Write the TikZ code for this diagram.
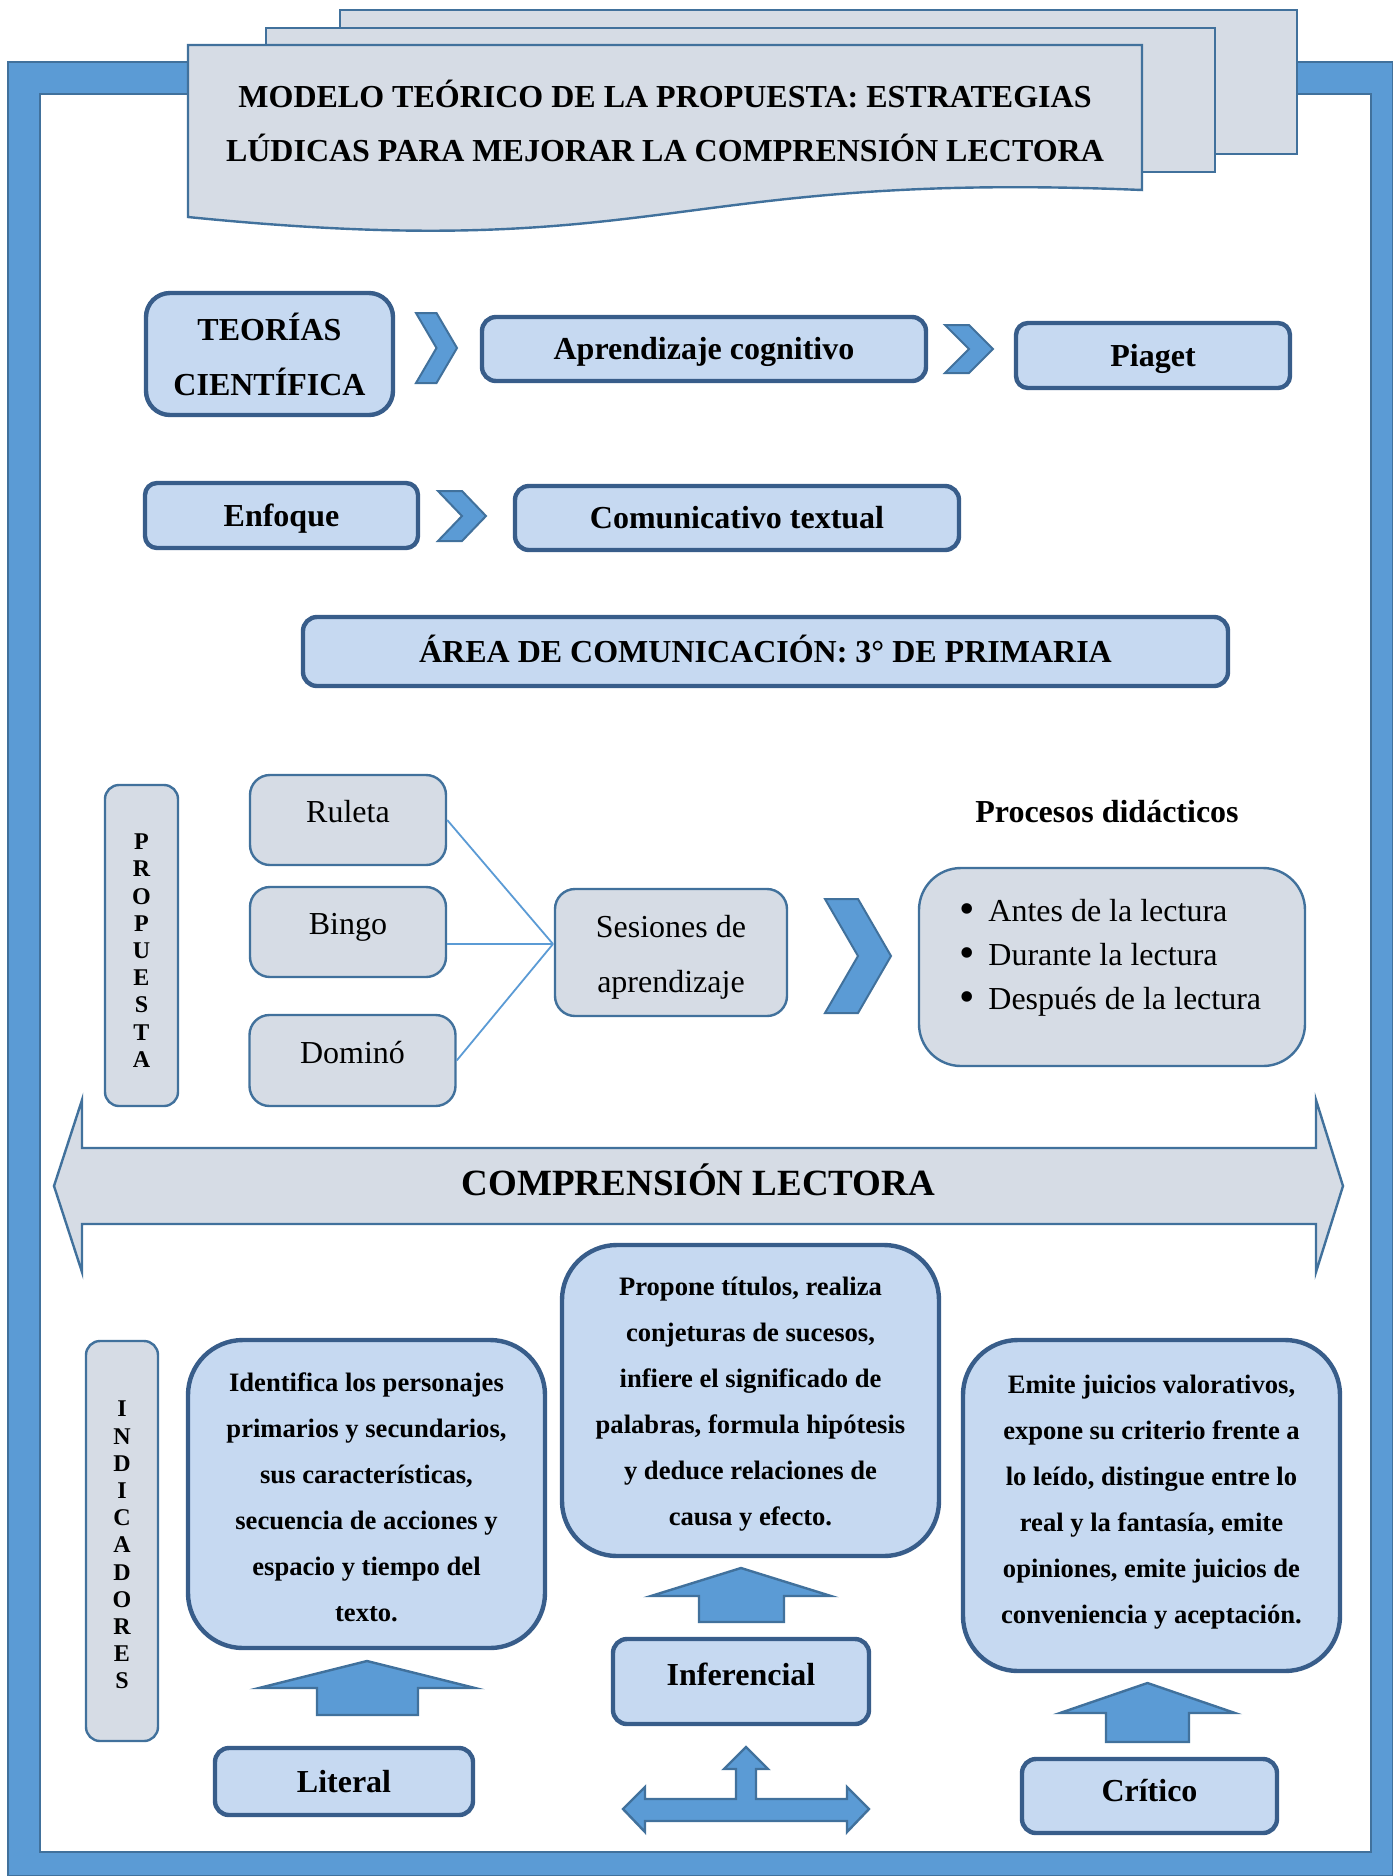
\documentclass[tikz,border=0pt]{standalone}
\usepackage{fontspec}
\setmainfont{Liberation Serif}
\definecolor{frameblue}{HTML}{5B9BD5}
\definecolor{edgeblue}{HTML}{41719C}
\definecolor{darkedge}{HTML}{385D8A}
\definecolor{lightfill}{HTML}{C6D9F1}
\definecolor{grayfill}{HTML}{D6DCE5}
\newcommand{\bigdot}{\raisebox{-1.3pt}{\fontsize{22}{22}\selectfont\textbullet}}
\tikzset{
  pagestyle/.style={fill=grayfill, draw=edgeblue, line width=1.2pt},
  bluebox/.style={fill=lightfill, draw=darkedge, line width=2.2pt, inner sep=0pt, font=\fontsize{16}{27.5}\selectfont\bfseries},
  oneline/.style={text height=10.9pt, text depth=0pt},
  graybox/.style={fill=grayfill, draw=edgeblue, line width=1.2pt, inner sep=0pt, font=\fontsize{16}{27.5}\selectfont},
  chev/.style={fill=frameblue, draw=edgeblue, line width=1pt},
  fatarrow/.style={fill=frameblue, draw=edgeblue, line width=1.2pt},
  link/.style={draw=frameblue, line width=0.9pt},
  txtbox/.style={bluebox, rounded corners=27.5pt, align=center, font=\fontsize{13.3}{23}\selectfont\bfseries},
  letters/.style={graybox, rounded corners=7pt, align=center, font=\fontsize{12}{13.6}\selectfont\bfseries},
}
\begin{document}
\begin{tikzpicture}[x=0.5pt,y=-0.5pt]
\useasboundingbox (0,0) rectangle (1393,1876);
% frame
\path[fill=frameblue, draw=edgeblue, line width=0.8pt] (8,62) rectangle (1393,1876);
\path[fill=white, draw=edgeblue, line width=0.8pt] (40,94) rectangle (1371,1852);
% stacked pages
\path[pagestyle] (340,10) rectangle (1297,154);
\path[pagestyle] (266,28) rectangle (1215,172);
\path[pagestyle] (188,45) -- (1142,45) -- (1142,190) .. controls (665,170) and (665,265) .. (188,217) -- cycle;
\node[font=\fontsize{16}{27}\selectfont\bfseries, align=center] (title) at (665,121)
  {MODELO TEÓRICO DE LA PROPUESTA: ESTRATEGIAS\\LÚDICAS PARA MEJORAR LA COMPRENSIÓN LECTORA};
% row 1
\node[bluebox, align=center, rounded corners=12pt, minimum width=123.5pt, minimum height=61pt] (teorias) at (269.5,354) {TEORÍAS\\CIENTÍFICA};
\node[bluebox, oneline, rounded corners=7pt, minimum width=222pt, minimum height=32pt] (aprend) at (704,349) {Aprendizaje cognitivo};
\node[bluebox, oneline, rounded corners=6pt, minimum width=137pt, minimum height=32.5pt] (piaget) at (1153,355.5) {Piaget};
\path[chev] (416,313) -- (436.5,313) -- (457,348) -- (436.5,383) -- (416,383) -- (436.5,348) -- cycle;
\path[chev] (945,325) -- (969,325) -- (993,349) -- (969,373) -- (945,373) -- (969,349) -- cycle;
% row 2
\node[bluebox, oneline, rounded corners=6pt, minimum width=136.5pt, minimum height=32.5pt] (enfoque) at (281.5,515.5) {Enfoque};
\node[bluebox, oneline, rounded corners=7pt, minimum width=222pt, minimum height=32pt] (comunic) at (737,518) {Comunicativo textual};
\path[chev] (438,491) -- (462,491) -- (486,516) -- (462,541) -- (438,541) -- (462,516) -- cycle;
% area
\node[bluebox, oneline, rounded corners=7pt, minimum width=462.5pt, minimum height=34.5pt] (area) at (765.5,651.5) {ÁREA DE COMUNICACIÓN: 3° DE PRIMARIA};
% propuesta
\node[letters, minimum width=36.5pt, minimum height=160.5pt] (prop) at (141.5,945.5) {\rule{0pt}{12.9pt}P\\R\\O\\P\\U\\E\\S\\T\\A};
\node[graybox, rounded corners=10pt, minimum width=98pt, minimum height=45pt, text height=5pt, text depth=2.4pt] (ruleta) at (348,820) {Ruleta};
\node[graybox, rounded corners=10pt, minimum width=98pt, minimum height=45pt, text height=5pt, text depth=2.4pt] (bingo) at (348,932) {Bingo};
\node[graybox, rounded corners=10pt, minimum width=103pt, minimum height=45.5pt, text height=5pt, text depth=2.4pt] (domino) at (352.5,1060.5) {Dominó};
\node[graybox, align=center, rounded corners=10pt, minimum width=116pt, minimum height=63.5pt] (ses) at (671,952.5) {\rule{0pt}{15.7pt}Sesiones de\\aprendizaje};
\coordinate (meet) at (553,944);
\draw[link] (ruleta.east) -- (meet);
\draw[link] (bingo.east |- meet) -- (meet);
\draw[link] (domino.east) -- (meet);
\path[chev] (825,899) -- (858,899) -- (891,956) -- (858,1013) -- (825,1013) -- (858,956) -- cycle;
\node[font=\fontsize{16}{20}\selectfont\bfseries] (proch) at (1107,812) {Procesos didácticos};
\node[graybox, rounded corners=21pt, minimum width=193pt, minimum height=99pt] (procbox) at (1112,967) {};
\node[font=\fontsize{16}{22}\selectfont, align=left, anchor=west, inner sep=0pt] (proclist) at (959,957.5)
  {\bigdot\hspace{6.8pt}Antes de la lectura\\\bigdot\hspace{6.8pt}Durante la lectura\\\bigdot\hspace{6.8pt}Después de la lectura};
% comprension lectora double arrow
\path[pagestyle] (54,1186) -- (82,1100) -- (82,1148) -- (1316,1148) -- (1316,1100) -- (1343,1186)
  -- (1316,1272) -- (1316,1224) -- (82,1224) -- (82,1272) -- cycle;
\node[font=\fontsize{18.5}{22}\selectfont\bfseries] (comp) at (698.5,1180) {COMPRENSIÓN LECTORA};
% indicadores
\node[letters, minimum width=36pt, minimum height=200pt] (ind) at (122,1541) {\rule{0pt}{11.9pt}I\\N\\D\\I\\C\\A\\D\\O\\R\\E\\S};
\node[txtbox, minimum width=178.5pt, minimum height=154pt] (litdesc) at (366.5,1494)
  {\rule{0pt}{12.7pt}Identifica los personajes\\primarios y secundarios,\\sus características,\\secuencia de acciones y\\espacio y tiempo del\\texto.};
\node[txtbox, minimum width=188.5pt, minimum height=155.5pt] (infdesc) at (750.5,1400.5)
  {\rule{0pt}{12.9pt}Propone títulos, realiza\\conjeturas de sucesos,\\infiere el significado de\\palabras, formula hipótesis\\y deduce relaciones de\\causa y efecto.};
\node[txtbox, minimum width=188.5pt, minimum height=165.5pt] (critdesc) at (1151.5,1505.5)
  {Emite juicios valorativos,\\expone su criterio frente a\\lo leído, distingue entre lo\\real y la fantasía, emite\\opiniones, emite juicios de\\conveniencia y aceptación.\rule[-6.5pt]{0pt}{6.5pt}};
% up arrows
\path[fatarrow] (367,1661) -- (475,1688) -- (418,1688) -- (418,1715) -- (317,1715) -- (317,1688) -- (259,1688) -- cycle;
\path[fatarrow] (741,1568) -- (831,1596) -- (784,1596) -- (784,1622) -- (699,1622) -- (699,1596) -- (651,1596) -- cycle;
\path[fatarrow] (1147.5,1683) -- (1235,1713) -- (1189,1713) -- (1189,1742) -- (1106,1742) -- (1106,1713) -- (1060,1713) -- cycle;
% level boxes
\node[bluebox, rounded corners=7pt, minimum width=129pt, minimum height=33.5pt] (literal) at (344,1781.5) {Literal};
\node[bluebox, rounded corners=7pt, minimum width=128pt, minimum height=42.5pt, text height=6pt, text depth=2.4pt] (inferencial) at (741,1681.5) {Inferencial};
\node[bluebox, rounded corners=7pt, minimum width=127.5pt, minimum height=37pt, text height=8pt, text depth=2.4pt] (critico) at (1149.5,1796) {Crítico};
% three-way arrow
\path[fatarrow] (623,1809) -- (645,1787) -- (645,1799) -- (736,1799) -- (736,1769) -- (724,1769) -- (746,1747)
  -- (768,1769) -- (756,1769) -- (756,1799) -- (847,1799) -- (847,1787) -- (869,1809) -- (847,1832)
  -- (847,1821) -- (645,1821) -- (645,1832) -- cycle;
\end{tikzpicture}
\end{document}
